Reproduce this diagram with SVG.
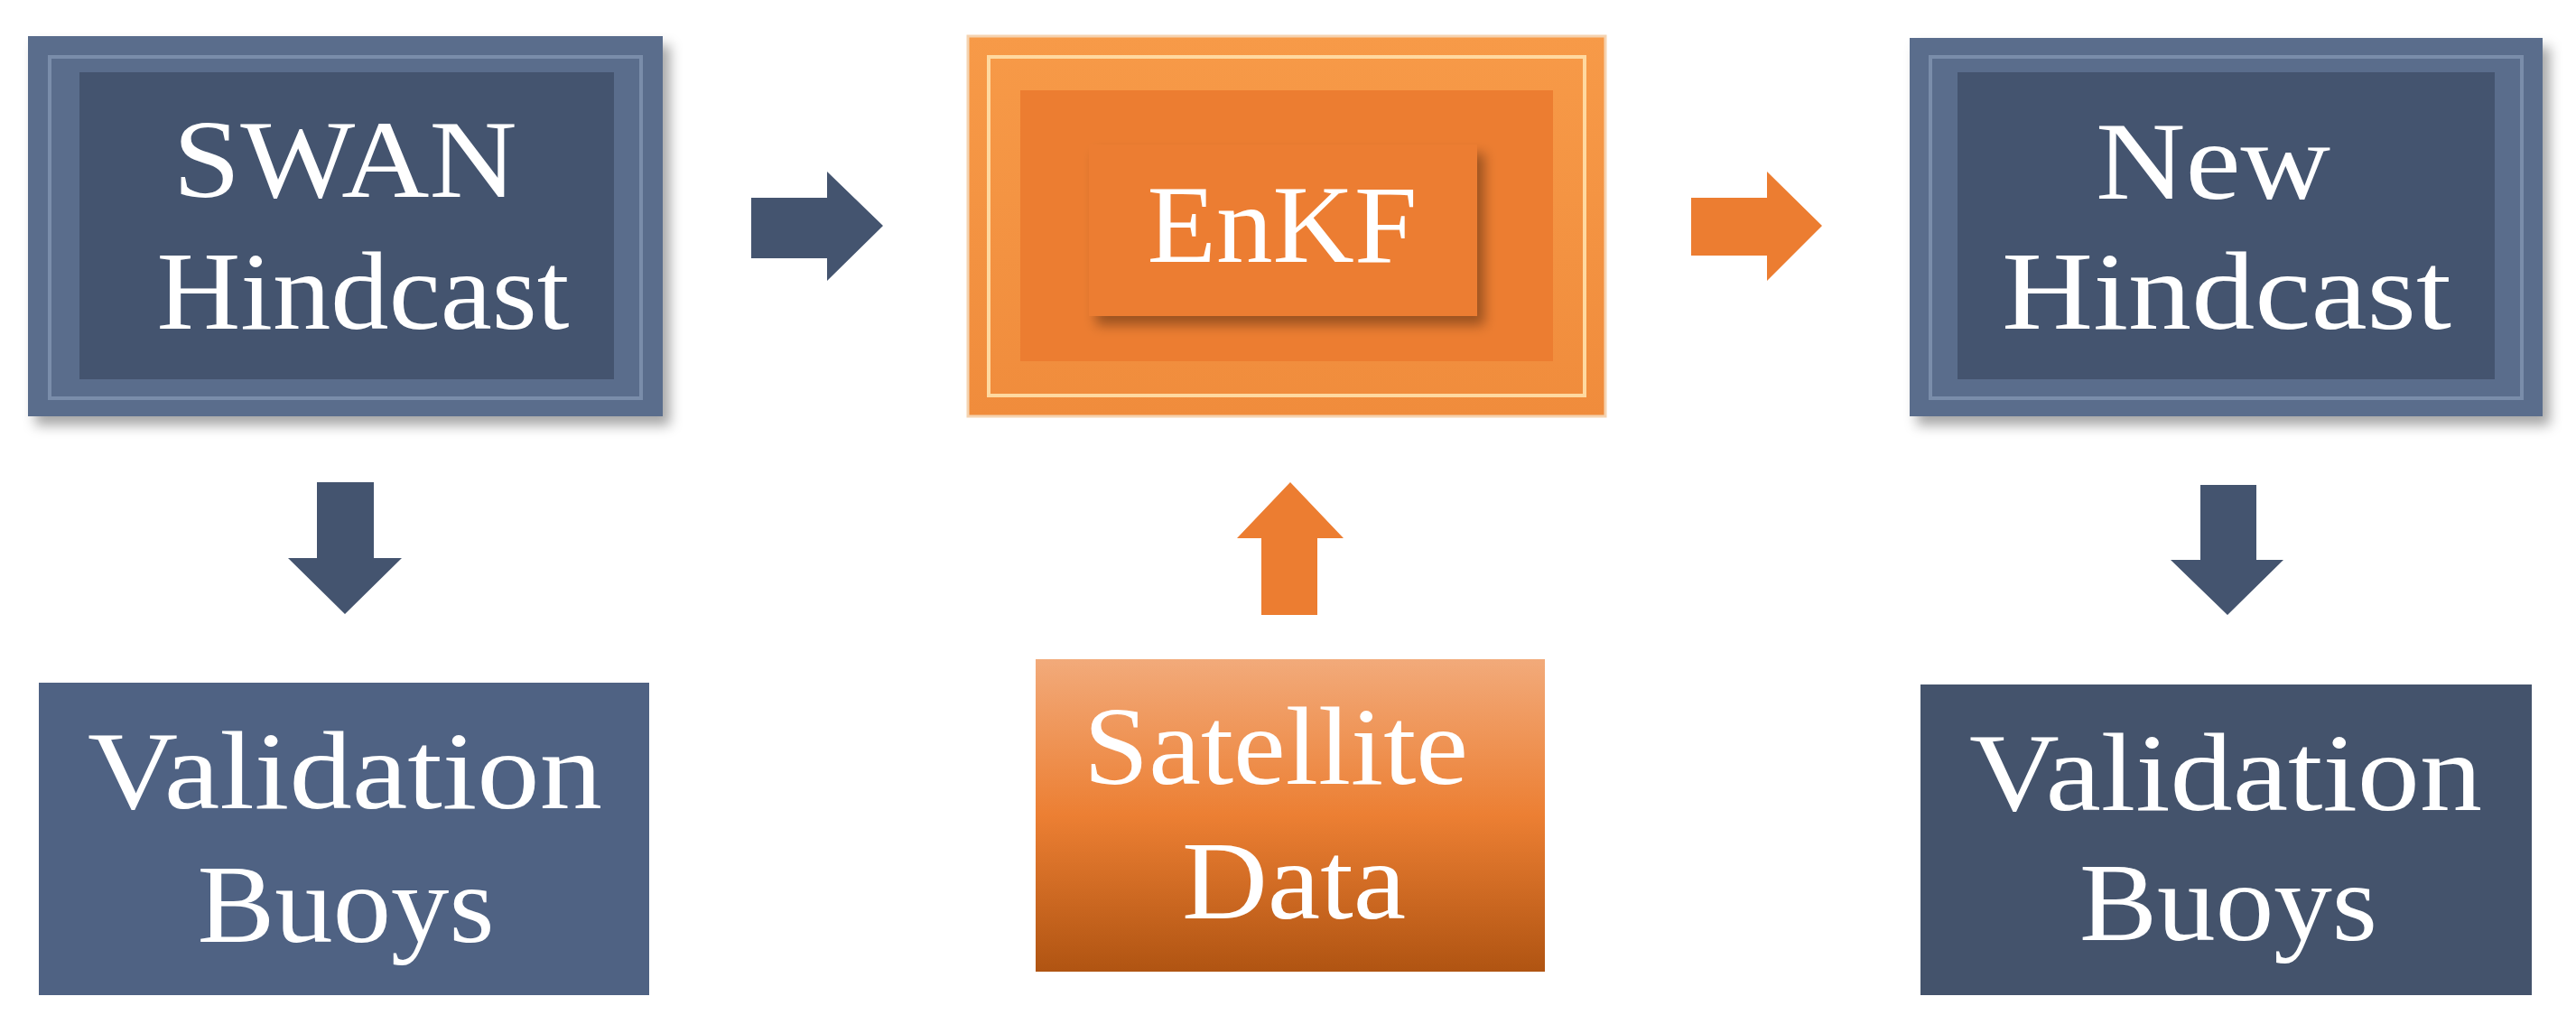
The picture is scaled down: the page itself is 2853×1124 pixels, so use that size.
<svg xmlns="http://www.w3.org/2000/svg" width="2853" height="1124" viewBox="0 0 2853 1124">
<defs>
<filter id="sh" x="-10%" y="-10%" width="125%" height="130%"><feDropShadow dx="8" dy="10" stdDeviation="7" flood-color="#000" flood-opacity="0.35"/></filter>
<linearGradient id="sat" x1="0" y1="0" x2="0" y2="1"><stop offset="0" stop-color="#f2aa7a"/><stop offset="0.5" stop-color="#ec7f33"/><stop offset="1" stop-color="#b05412"/></linearGradient>
<linearGradient id="bevB" x1="0" y1="0" x2="0" y2="1"><stop offset="0" stop-color="#6d81a0"/><stop offset="1" stop-color="#4d5f7d"/></linearGradient>
<linearGradient id="bevO" x1="0" y1="0" x2="0" y2="1"><stop offset="0" stop-color="#f79a48"/><stop offset="1" stop-color="#f08c3c"/></linearGradient>
</defs>
<style>
.t{font-family:"Liberation Serif","DejaVu Serif",serif;fill:#fff;font-size:122px;text-anchor:middle}
.blue{fill:#44546f}
.org{fill:#ec7d31}
</style>
<g id="swan">
<rect x="31" y="40" width="703" height="421" fill="#5a6d8c" filter="url(#sh)"/>
<rect x="55" y="63" width="655" height="378" fill="none" stroke="#7a8daa" stroke-width="4"/>
<rect x="88" y="80" width="592" height="340" class="blue"/>
<text class="t" x="382" y="218" textLength="381" lengthAdjust="spacingAndGlyphs">SWAN</text>
<text class="t" x="402" y="364" textLength="457" lengthAdjust="spacingAndGlyphs">Hindcast</text>
</g>
<g id="enkf">
<rect x="1072" y="40" width="706" height="421" fill="url(#bevO)" stroke="#f5d3b0" stroke-width="3"/>
<rect x="1095" y="63" width="660" height="375" fill="none" stroke="#ffd9a0" stroke-width="4"/>
<rect x="1130" y="100" width="590" height="300" class="org"/>
<rect x="1206" y="160" width="430" height="190" class="org" filter="url(#sh)"/>
<text class="t" x="1420" y="290" textLength="299" lengthAdjust="spacingAndGlyphs">EnKF</text>
</g>
<g id="newhind">
<rect x="2115" y="42" width="701" height="419" fill="#5a6d8c" filter="url(#sh)"/>
<rect x="2138" y="63" width="655" height="378" fill="none" stroke="#7a8daa" stroke-width="4"/>
<rect x="2168" y="80" width="595" height="340" class="blue"/>
<text class="t" x="2451" y="220" textLength="260" lengthAdjust="spacingAndGlyphs">New</text>
<text class="t" x="2466" y="364" textLength="498" lengthAdjust="spacingAndGlyphs">Hindcast</text>
</g>
<g id="val1">
<rect x="43" y="756" width="676" height="346" fill="#4f6283"/>
<text class="t" x="382" y="895" textLength="570" lengthAdjust="spacingAndGlyphs">Validation</text>
<text class="t" x="383" y="1043" textLength="329" lengthAdjust="spacingAndGlyphs">Buoys</text>
</g>
<g id="sat">
<rect x="1147" y="730" width="564" height="346" fill="url(#sat)"/>
<text class="t" x="1413" y="868" textLength="426" lengthAdjust="spacingAndGlyphs">Satellite</text>
<text class="t" x="1433" y="1017" textLength="248" lengthAdjust="spacingAndGlyphs">Data</text>
</g>
<g id="val2">
<rect x="2127" y="758" width="677" height="344" fill="#44536c"/>
<text class="t" x="2465" y="897" textLength="568" lengthAdjust="spacingAndGlyphs">Validation</text>
<text class="t" x="2468" y="1041" textLength="330" lengthAdjust="spacingAndGlyphs">Buoys</text>
</g>
<g id="connectors">
<polygon class="blue" points="832,219 916,219 916,190 978,250 916,311 916,286 832,286"/>
<polygon class="org" points="1873,219 1957,219 1957,190 2018,250 1957,311 1957,283 1873,283"/>
<polygon class="blue" points="351,534 414,534 414,618 445,618 382,680 319,618 351,618"/>
<polygon class="blue" points="2437,537 2499,537 2499,620 2529,620 2467,681 2404,620 2437,620"/>
<polygon class="org" points="1429,534 1488,596 1459,596 1459,681 1397,681 1397,596 1370,596"/>
</g>
</svg>
